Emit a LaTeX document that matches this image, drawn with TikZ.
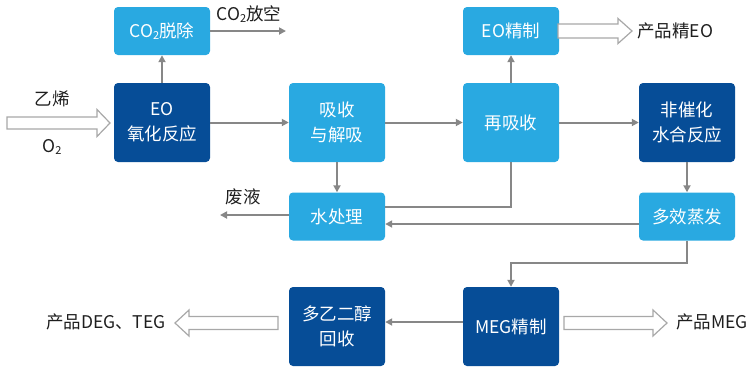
\documentclass[tikz,border=0pt]{standalone}
\usepackage{fontspec}
\setmainfont{Noto Sans CJK SC}
\usetikzlibrary{arrows.meta,calc}
\definecolor{lightb}{HTML}{29A9E1}
\definecolor{darkb}{HTML}{064D97}
\definecolor{lineg}{HTML}{878787}
\definecolor{hollowg}{HTML}{A8A8A8}
\definecolor{txt}{HTML}{1E1E1E}
\newcommand\subtwo{\raisebox{-0.12em}{\fontsize{11}{11}\selectfont 2}}
\tikzset{
  box/.style={rounded corners=4pt, minimum width=96pt, text=white, align=center,
    font=\fontsize{17.5}{25}\selectfont, inner sep=0pt},
  lbox/.style={box, fill=lightb},
  dbox/.style={box, fill=darkb},
  small/.style={minimum height=48pt},
  tall/.style={minimum height=79pt},
  arr/.style={draw=lineg, line width=2pt, -{Triangle[length=7pt,width=7pt]}},
  plain/.style={draw=lineg, line width=2pt},
  lbl/.style={text=txt, font=\fontsize{17.5}{20}\selectfont, inner sep=0pt},
  hollow/.style={draw=hollowg, line width=1.2pt, fill=white, line join=miter}
}
% hollow arrow: start x, tip x, center y, shaft half-height, head half-height, head length
\newcommand\hollowarrow[6]{%
  \pgfmathsetmacro\hsgn{(#2>#1)?1:-1}%
  \pgfmathsetmacro\hbase{#2-\hsgn*#6}%
  \draw[hollow] (#1,#3-#4) -- (\hbase,#3-#4) -- (\hbase,#3-#5) -- (#2,#3)
    -- (\hbase,#3+#5) -- (\hbase,#3+#4) -- (#1,#3+#4) -- cycle;}
\begin{document}
\begin{tikzpicture}[x=1pt,y=-1pt]
\useasboundingbox (0,0) rectangle (750,368);
% boxes
\node[lbox,small] (co2) at (162,31) {CO\subtwo 脱除};
\node[dbox,tall] (eo) at (162,122.5) {EO\\氧化反应};
\node[lbox,tall] (abs) at (337,122.5) {吸收\\与解吸};
\node[lbox,small] (eoref) at (511,31) {EO精制};
\node[lbox,tall] (reabs) at (511,122.5) {再吸收};
\node[dbox,tall] (hyd) at (687,122.5) {非催化\\水合反应};
\node[lbox,small] (water) at (337,216.5) {水处理};
\node[lbox,small] (evap) at (687,216.5) {多效蒸发};
\node[dbox,tall] (peg) at (337,326.5) {多乙二醇\\回收};
\node[dbox,tall] (meg) at (511,326.5) {MEG精制};
% labels
\node[lbl] (lco2) at (249,14) {CO\subtwo 放空};
\node[lbl] (leth) at (52,99) {乙烯};
\node[lbl] (lo2) at (52,147) {O\subtwo};
\node[lbl,anchor=west] (leo) at (637,31) {产品精EO};
\node[lbl] (lwaste) at (243,197) {废液};
\node[lbl,anchor=east] (ldeg) at (166,322) {产品DEG、TEG};
\node[lbl,anchor=west] (lmeg) at (676,322) {产品MEG};
\coordinate (co2out) at (286,31);
\coordinate (wasteout) at (220,215);
% connectors
\draw[arr] (co2.east) -- (co2out);
\draw[arr] (eo.north) -- (co2.south);
\draw[arr] (eo.east) -- (abs.west);
\draw[arr] (abs.east) -- (reabs.west);
\draw[arr] (reabs.east) -- (hyd.west);
\draw[arr] (reabs.north) -- (eoref.south);
\draw[arr] (abs.south) -- (water.north);
\draw[arr] (water.west |- wasteout) -- (wasteout);
\draw[plain] (reabs.south) |- ([yshift=9.5pt]water.east);
\draw[arr] ([yshift=-7.5pt]evap.west) -- ([yshift=-7.5pt]water.east);
\draw[arr] (hyd.south) -- (evap.north);
\draw[arr] (evap.south) -- ++(0,22) -| (meg.north);
\draw[arr] ([yshift=4.5pt]meg.west) -- ([yshift=4.5pt]peg.east);
% hollow arrows
\hollowarrow{7}{110}{123}{6}{13.5}{13}
\hollowarrow{558}{632}{31}{7}{12.5}{14}
\hollowarrow{564}{667}{323}{6.5}{13}{14}
\hollowarrow{278}{175}{323}{6.5}{13}{14}
\end{tikzpicture}
\end{document}
